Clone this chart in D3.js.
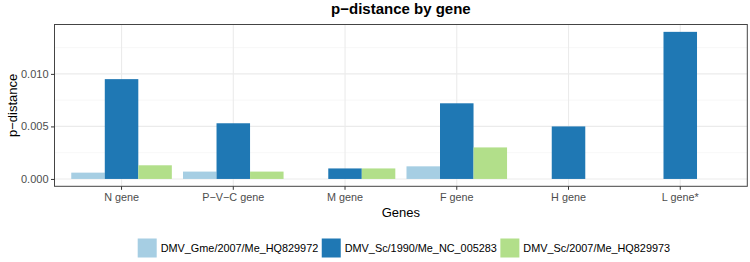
<!DOCTYPE html>
<html><head><meta charset="utf-8">
<script src="https://cdn.jsdelivr.net/npm/d3@7"></script>
<style>body{margin:0;background:#fff}svg{display:block}text{font-family:"Liberation Sans",Arial,sans-serif}</style>
</head><body>
<svg id="c" width="750" height="262"></svg>
<script>
const genes = ["N gene","P\u2212V\u2212C gene","M gene","F gene","H gene","L gene*"];
const seriesNames = ["DMV_Gme/2007/Me_HQ829972","DMV_Sc/1990/Me_NC_005283","DMV_Sc/2007/Me_HQ829973"];
const gme2007 = [0.0006, 0.0007, 0, 0.0012, 0, 0];
const sc1990  = [0.0095, 0.0053, 0.0010, 0.0072, 0.0050, 0.0140];
const sc2007  = [0.0013, 0.0007, 0.0010, 0.0030, 0, 0];
const colors = ["#A6CEE3","#1F78B4","#B2DF8A"];
const yTicks = [0, 0.005, 0.010];
const yMinor = [0.0025, 0.0075, 0.0125];

const values = [gme2007, sc1990, sc2007];
const svg = d3.select("#c");
const L = 54.5, R = 747.3, T = 24.5, B = 186.3;
const maxV = d3.max(sc1990);
const y = d3.scaleLinear().domain([-0.05*maxV, 1.05*maxV]).range([B, T]);
const x = d3.scalePoint().domain(genes).range([L, R]).padding(0.6);
const unit = x.step();
const cx = gn => x(gn);
const bw = 0.9*unit/3;
const fs = "10.8px";

// grid
const g = svg.append("g");
yMinor.forEach(v => g.append("line").attr("x1",L).attr("x2",R).attr("y1",y(v)).attr("y2",y(v)).attr("stroke","#F2F2F2").attr("stroke-width",0.6));
yTicks.forEach(v => g.append("line").attr("x1",L).attr("x2",R).attr("y1",y(v)).attr("y2",y(v)).attr("stroke","#EBEBEB").attr("stroke-width",1.1));
genes.forEach(gn => g.append("line").attr("x1",cx(gn)).attr("x2",cx(gn)).attr("y1",T).attr("y2",B).attr("stroke","#EBEBEB").attr("stroke-width",1.1));

// bars
values.forEach((arr, si) => {
  svg.append("g").selectAll("rect").data(arr).join("rect")
    .attr("x", (d,i) => cx(genes[i]) - 1.5*bw + si*bw)
    .attr("width", bw)
    .attr("y", d => y(Math.max(d,0)))
    .attr("height", d => Math.abs(y(0) - y(d)))
    .attr("fill", colors[si]);
});

// border
svg.append("rect").attr("x",L).attr("y",T).attr("width",R-L).attr("height",B-T).attr("fill","none").attr("stroke","#444").attr("stroke-width",1);

// y axis
const yAxis = svg.append("g").attr("transform",`translate(${L},0)`)
  .call(d3.axisLeft(y).tickValues(yTicks).tickFormat(d3.format(".3f")).tickSize(3.5).tickPadding(2.5));
yAxis.select(".domain").remove();
yAxis.selectAll("line").attr("stroke","#333").attr("stroke-width",1);
yAxis.selectAll("text").attr("fill","#4D4D4D").style("font-size","11px").style("font-family","Liberation Sans, Arial, sans-serif");

// x axis
const xAxis = svg.append("g").attr("transform",`translate(0,${B})`);
genes.forEach(gn => {
  xAxis.append("line").attr("x1",cx(gn)).attr("x2",cx(gn)).attr("y1",0).attr("y2",3.5).attr("stroke","#333");
  xAxis.append("text").attr("x",cx(gn)).attr("y",14.5).attr("text-anchor","middle").attr("fill","#4D4D4D").style("font-size",fs).text(gn);
});

// titles
const title = svg.append("text").attr("x",(L+R)/2).attr("y",14).attr("text-anchor","middle").style("font-size","15px").style("font-weight","bold").attr("fill","#000").text("p\u2212distance by gene");
const tw = title.node().getComputedTextLength();
title.style("font-size", Math.min(15, 15*157/tw).toFixed(2)+"px");
svg.append("text").attr("x",(L+R)/2).attr("y",217).attr("text-anchor","middle").style("font-size","13px").attr("fill","#000").text("Genes");
svg.append("text").attr("transform",`translate(17.3,${(T+B)/2}) rotate(-90)`).attr("text-anchor","middle").style("font-size","13px").attr("fill","#000").text("p\u2212distance");

// legend
const lg = svg.append("g");
const key = 19, gap1 = 4, gap2 = 3.5;
const items = seriesNames.map((n,i) => {
  const t = lg.append("text").style("font-size","11px").attr("fill","#000").text(n);
  return {t, c: colors[i]};
});
const w0 = items[0].t.node().getComputedTextLength();
const lfs = Math.min(11, 11*157.6/w0);
items.forEach(it => { it.t.style("font-size", lfs.toFixed(2)+"px"); it.w = it.t.node().getComputedTextLength(); });
let lx = 137.7;
const ky = 238.5;
items.forEach(it => {
  lg.append("rect").attr("x",lx).attr("y",ky).attr("width",key).attr("height",key).attr("fill",it.c);
  it.t.attr("x", lx + key + gap1).attr("y", ky + key/2 + 4);
  lx += key + gap1 + it.w + gap2;
});
</script>
</body></html>
